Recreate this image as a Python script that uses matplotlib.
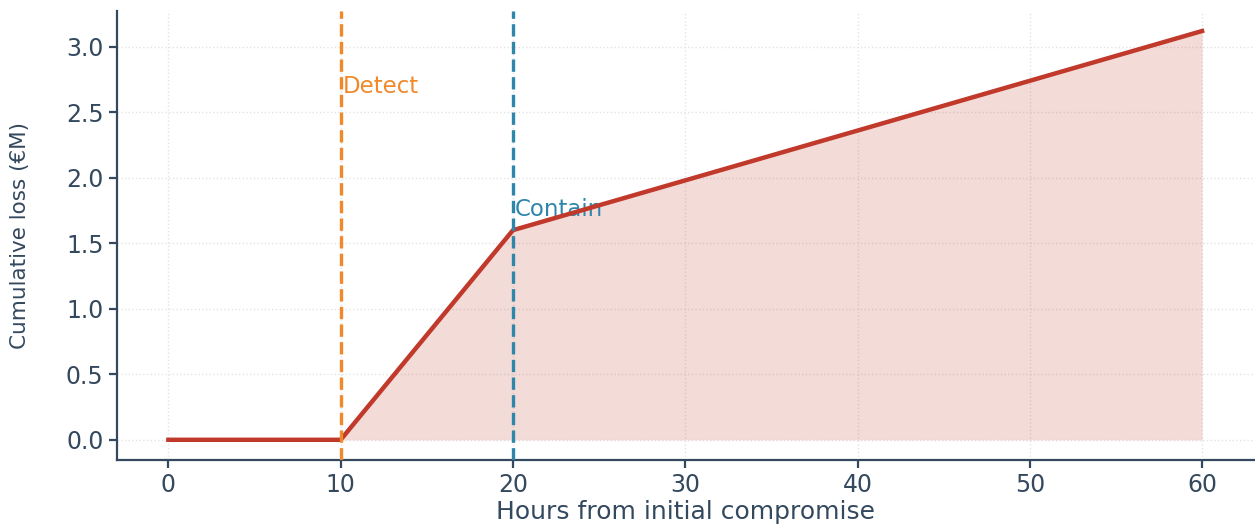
import numpy as np
import matplotlib
matplotlib.use("Agg")
import matplotlib.pyplot as plt

# data
hours = [0, 10, 20, 60]
loss = [0.0, 0.0, 1.6, 3.12]
detect_hour = 10
contain_hour = 20
detect_label = "Detect"
contain_label = "Contain"

ink = "#34495e"
red = "#c0392b"
orange = "#f0892a"
blue = "#2e86ab"

plt.rcParams['font.family'] = ['DejaVu Sans']

fig, ax = plt.subplots(figsize=(12.55, 5.29), dpi=100)
fig.subplots_adjust(left=0.093, right=0.999, top=0.98, bottom=0.13)

ax.plot(hours, loss, color=red, lw=3.2, zorder=4)
ax.fill_between(hours, loss, 0, color=red, alpha=0.18, lw=0, zorder=2)

ax.axvline(detect_hour, color=orange, ls="--", lw=2.4, zorder=5)
ax.axvline(contain_hour, color=blue, ls="--", lw=2.4, zorder=5)
ax.text(detect_hour + 0.1, 2.70, detect_label, color=orange, fontsize=16.5, va="center", ha="left")
ax.text(contain_hour + 0.1, 1.76, contain_label, color=blue, fontsize=16.5, va="center", ha="left")

ax.set_xticks([0, 10, 20, 30, 40, 50, 60])
ax.set_yticks([0.0, 0.5, 1.0, 1.5, 2.0, 2.5, 3.0])
ax.set_yticklabels([f"{v:.1f}" for v in [0.0, 0.5, 1.0, 1.5, 2.0, 2.5, 3.0]])

ax.grid(True, ls=":", color="#e3e3e3", lw=1)
ax.set_axisbelow(True)
for s in ["top", "right"]:
    ax.spines[s].set_visible(False)
for s in ["left", "bottom"]:
    ax.spines[s].set_color(ink)
    ax.spines[s].set_linewidth(1.6)
ax.tick_params(colors=ink, labelsize=17, width=1.6, length=6)

ax.set_xlabel("Hours from initial compromise", fontsize=18, color=ink, labelpad=2)
ax.set_ylabel("Cumulative loss (€M)", fontsize=15.5, color=ink, labelpad=26)

fig.savefig("out.png", dpi=100)
